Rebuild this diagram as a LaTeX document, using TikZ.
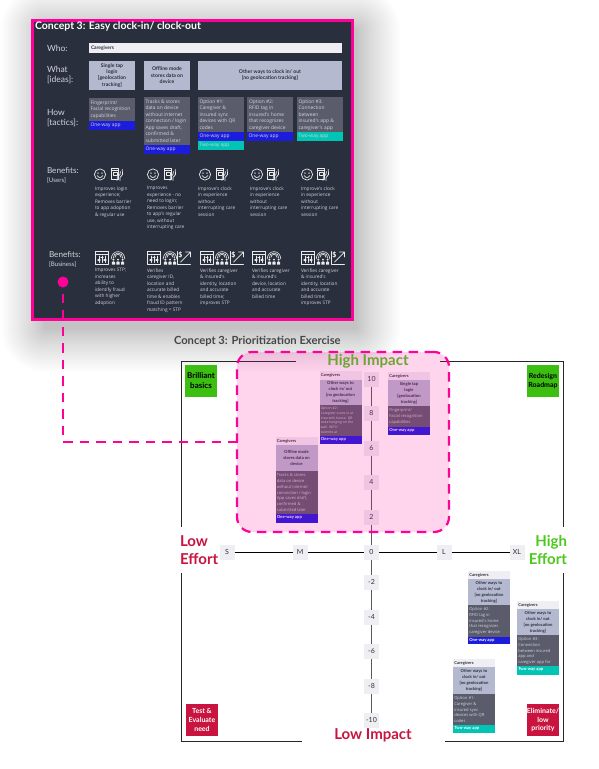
\documentclass[tikz,border=0pt]{standalone}
\usepackage{fontspec}
\setmainfont{Lato}
\newfontfamily\bodyfam{Open Sans}
\definecolor{pnk}{HTML}{FF0099}
\definecolor{panel}{HTML}{2A2F3D}
\definecolor{idea}{HTML}{B5B9D0}
\definecolor{cardg}{HTML}{5A5C6C}
\definecolor{blu}{HTML}{1C1CDD}
\definecolor{teal2}{HTML}{00C4B4}
\definecolor{tick}{HTML}{EEEEF3}
\definecolor{lbl}{HTML}{D2D3DA}
\definecolor{grn}{HTML}{3CBF10}
\definecolor{hgrn}{HTML}{4CC81E}
\definecolor{crim}{HTML}{C8143F}
\tikzset{
 rct/.style={rectangle,inner sep=0pt,outer sep=0pt,draw=none},
 lefttxt/.style={inner sep=0pt,outer sep=0pt,anchor=north west,align=left},
 ctrtxt/.style={inner sep=0pt,outer sep=0pt,align=center},
 body/.style={lefttxt,text=lbl,font=\bodyfam\fontsize{4.9}{6.5}\selectfont},
 benefit/.style={lefttxt,text=lbl,font=\bodyfam\fontsize{4.75}{6.5}\selectfont},
 rowhead/.style={lefttxt,text=lbl,font=\fontsize{8.5}{10.5}\selectfont},
 benhead/.style={lefttxt,text=lbl,font=\fontsize{8.2}{9}\selectfont},
 rowsub/.style={lefttxt,text=lbl,font=\fontsize{6.2}{7}\selectfont},
 ideatxt/.style={ctrtxt,text=panel,font=\fontsize{5.1}{6.4}\selectfont\bfseries},
 tickbox/.style={rct,fill=tick,minimum width=15pt,minimum height=15pt,text=black!80,font=\fontsize{7}{8}\selectfont},
 bigword/.style={ctrtxt,font=\fontsize{15}{18}\selectfont\bfseries},
 quadtxt/.style={ctrtxt,font=\fontsize{7}{8.6}\selectfont\bfseries},
 minihead/.style={lefttxt,text=black!80,font=\fontsize{4.1}{5}\selectfont\bfseries},
 miniidea/.style={ctrtxt,text=panel,font=\fontsize{4.2}{5.9}\selectfont\bfseries},
 minibody/.style={lefttxt,text=lbl,font=\bodyfam\fontsize{4.1}{5.9}\selectfont},
 minibar/.style={lefttxt,text=white,font=\fontsize{4.2}{5}\selectfont\bfseries},
 frameline/.style={line width=1pt,draw=black!85},
 icon/.style={draw=white!92!black,line width=.7pt,line cap=round,line join=round},
 smile/.pic={\draw[icon] (0,0) circle (5.6);
   \fill[white] (-2,-1.4) circle (.7) (2,-1.4) circle (.7);
   \draw[icon] (-2.8,1.1) .. controls (-1.4,3.6) and (1.4,3.6) .. (2.8,1.1);},
 phone/.pic={\draw[icon] (-5.5,-6) rectangle (1.8,4.5);
   \draw[icon] (-5.5,-4.2) -- (1.8,-4.2);
   \draw[icon] (-3.5,-2.5) rectangle (0,1);
   \draw[icon] (0,6) -- (0.4,2.5) -- (3,0) -- (3.4,-3) (3,6) -- (3,3) -- (5.6,0) -- (5.2,-5);},
 win/.pic={\draw[icon] (-6.5,-6.5) rectangle (6.5,6.5);
   \draw[icon] (-6.5,-3.8) -- (6.5,-3.8);
   \draw[icon] (-3,-2) -- (-3,4.5) (0,-2) -- (0,4.5) (3,-2) -- (3,4.5);
   \draw[icon,line width=1.1pt] (-4,2) -- (-2,2) (-1,-.4) -- (1,-.4) (2,2) -- (4,2);},
 crowd/.pic={
   \draw[icon,line width=.6pt] (-6.8,1) arc (180:360:6.8 and 7.4);
   \draw[icon,line width=.6pt] (-4.9,.2) arc (180:360:4.9 and 5.2);
   \draw[icon,line width=.6pt] (-3,-.6) arc (180:360:3 and 3.1);
   \foreach \px in {-4.6,0,4.6}{
     \fill[white!92!black] (\px,1.6) circle (1.1);
     \fill[white!92!black] (\px-1.6,6.5) -- (\px-1.6,4.2) .. controls (\px-1.4,2.9) and (\px+1.4,2.9) .. (\px+1.6,4.2) -- (\px+1.6,6.5) -- cycle;}
   },
 growth/.pic={\draw[icon] (-6.5,-6.5) -- (-6.5,6.5) -- (6.5,6.5);
   \draw[icon] (-3.5,4) -- (6,-5.5) (1.5,-6) -- (6.5,-6) -- (6.5,-1);
   \node[inner sep=0pt,text=white,font=\fontsize{7}{7}\selectfont\bfseries] (dollarsign) at (-3.6,-3) {\$};},
}
\newcommand\rbox[6]{% name, x1,y1,x2,y2, style
 \pgfmathsetmacro\rw{#4-#2}\pgfmathsetmacro\rh{#5-#3}
 \node[rct,#6,minimum width=\rw pt,minimum height=\rh pt,anchor=north west] (#1) at (#2,#3) {};}
% mini card on the chart
\newcommand\minicard[9]{\rbox{#1h}{#2}{#3}{#2+42}{#4}{fill=tick}
 \rbox{#1i}{#2}{#4}{#2+42}{#5}{fill=idea}
 \rbox{#1b}{#2}{#5}{#2+42}{#6}{fill=cardg}
 \rbox{#1a}{#2}{#6}{#2+42}{#7}{fill=#8}
 \node[minihead] (#1ht) at ([xshift=1.3pt,yshift=-2pt]#1h.north west) {Caregivers};
 \node[minibar] (#1at) at ([xshift=1.3pt,yshift=-1.7pt]#1a.north west) {#9};
 \minicardrest{#1}}
\newcommand\minicardrest[3]{\node[miniidea] (#1it) at (#1i.center) {#2};
 \node[minibody,anchor=north west] (#1bt) at ([xshift=1.3pt,yshift=-2.2pt]#1b.north west) {#3};}
\begin{document}
\begin{tikzpicture}[x=1pt,y=-1pt]
\useasboundingbox (0,0) rectangle (598,769);
\fill[white] (0,0) rectangle (598,769);
% soft shadow round the panel
\foreach \i in {1,...,30}{
  \pgfmathsetmacro\dd{44*(\i/30)^1.2}
  \fill[black,opacity=.0085,rounded corners=\dd pt] (45-\dd,30-\dd) rectangle (356+\dd,328+\dd);}
% panel
\rbox{panel}{32.5}{20.5}{352.5}{319.5}{fill=panel,draw=pnk,line width=3pt}
\node[lefttxt,text=white,font=\fontsize{10.5}{12}\selectfont\bfseries] (title) at (35,22) {Concept 3: Easy clock-in/ clock-out};
\node[rowhead] (who) at (47,45) {Who:};
\node[rowhead] (what) at (47,66) {What\\{[ideas]:}};
\node[rowhead] (how) at (47,109) {How\\{[tactics]:}};
\rbox{whobar}{89}{43}{342}{53}{fill=tick}
\node[lefttxt,text=panel,font=\fontsize{4.9}{6}\selectfont\bfseries] (whot) at (91,45.5) {Caregivers};
\rbox{ia}{89}{61}{135}{89.5}{fill=idea}
\rbox{ib}{144}{61}{190}{89.5}{fill=idea}
\rbox{ic}{198}{61}{342}{89.5}{fill=idea}
\node[ideatxt] (iat) at (ia.center) {Single tap\\login\\{[geolocation}\\tracking]};
\node[ideatxt] (ibt) at (ib.center) {Offline mode\\stores data on\\device};
\node[ideatxt] (ict) at (ic.center) {Other ways to clock in/ out\\{[no geolocation tracking]}};
% tactics
\rbox{ca}{89}{98}{135}{121}{fill=cardg}
\rbox{cb}{144}{97}{190}{145}{fill=cardg}
\rbox{cc}{198}{97}{244}{132}{fill=cardg}
\rbox{cd}{247}{97}{293}{132}{fill=cardg}
\rbox{ce}{297}{97}{343}{132}{fill=cardg}
\rbox{ba}{89}{121}{135}{130}{fill=blu}
\rbox{bb}{144}{145}{190}{154}{fill=blu}
\rbox{bc}{198}{132}{244}{141}{fill=blu}
\rbox{bc2}{198}{141}{244}{150}{fill=teal2}
\rbox{bd}{247}{132}{293}{141}{fill=blu}
\rbox{be}{297}{132}{343}{141}{fill=teal2}
\node[body] (cat) at (90.5,100.5) {Fingerprint/\\Facial recognition\\capabilities};
\node[body] (cbt) at (145.5,99.5) {Tracks \& stores\\data on device\\without internet\\connection / login\\App saves draft,\\confirmed \&\\submitted later};
\node[body] (cct) at (199.5,99.5) {Option \#1:\\Caregiver \&\\insured sync\\devices with QR\\codes};
\node[body] (cdt) at (249,99.5) {Option \#2:\\RFID tag in\\insured's home\\that recognizes\\caregiver device};
\node[body] (cet) at (298.5,99.5) {Option \#3:\\Connection\\between\\insured's app \&\\caregiver's app};
\foreach \n/\t in {ba/One-way app,bb/One-way app,bc/One-way app,bc2/Two-way app,bd/One-way app,be/Two-way app}{
  \node[lefttxt,anchor=west,text=lbl,font=\bodyfam\fontsize{4.9}{6}\selectfont] (\n t) at ([xshift=1.5pt]\n.west) {\t};}
% benefits: users
\node[benhead] (bu) at (47,167) {Benefits:};
\node[rowsub] (bus) at (47,178) {[Users]};
\foreach \x/\p in {100/117,153/170,205/222,257/273,307/323}{
  \pic at (\x,174.5) {smile};
  \pic at (\p,174.5) {phone};}
\node[benefit] (ua) at (95,186.5) {Improves login\\experience;\\Removes barrier\\to app adoption\\\& regular use};
\node[benefit] (ub) at (147,186.5) {Improves\\experience - no\\need to login;\\Removes barrier\\to app's regular\\use, without\\interrupting care};
\node[benefit] (uc) at (198,186.5) {Improve's clock\\in experience\\without\\interrupting care\\session};
\node[benefit] (ud) at (250,186.5) {Improve's clock\\in experience\\without\\interrupting care\\session};
\node[benefit] (ue) at (301,186.5) {Improve's clock\\in experience\\without\\interrupting care\\session};
% benefits: business
\node[benhead] (bb1) at (49,251) {Benefits:};
\node[rowsub] (bb2) at (49,262) {[Business]};
\foreach \x/\p in {102/118,154/170,207/222,259/274,308/323}{
  \pic at (\x,258) {win};
  \pic at (\p,258) {crowd};}
\foreach \x in {184,237,338}{\pic at (\x,258) {growth};}
\node[benefit] (va) at (95,268.5) {Improves STP;\\increases\\ability to\\identify fraud\\with higher\\adoption};
\node[benefit] (vb) at (147,268.5) {Verifies\\caregiver ID,\\location and\\accurate billed\\time \& enables\\fraud ID pattern\\matching = STP};
\node[benefit] (vc) at (200,268.5) {Verifies caregiver\\\& insured's\\identity, location\\and accurate\\billed time;\\improves STP};
\node[benefit] (vd) at (252,268.5) {Verifies caregiver\\\& insured's\\device, location\\and accurate\\billed time};
\node[benefit] (ve) at (301,268.5) {Verifies caregiver\\\& insured's\\identity, location\\and accurate\\billed time;\\improves STP};
% chart title and frame
\node[lefttxt,anchor=west,text=black!72,font=\fontsize{11.2}{13}\selectfont\bfseries] (ctitle) at (174,341) {Concept 3: Prioritization Exercise};
\coordinate (f1) at (296,361); \coordinate (f2) at (181,361); \coordinate (f3) at (181,527);
\coordinate (f4) at (181,573); \coordinate (f5) at (181,741); \coordinate (f6) at (302,741);
\coordinate (f7) at (445,741); \coordinate (f8) at (563,741); \coordinate (f9) at (563,573);
\coordinate (f10) at (563,527); \coordinate (f11) at (563,361); \coordinate (f12) at (440,361);
\draw[frameline] (f1) -- (f2) -- (f3);
\draw[frameline] (f4) -- (f5) -- (f6);
\draw[frameline] (f7) -- (f8) -- (f9);
\draw[frameline] (f10) -- (f11) -- (f12);
% axes
\foreach \n/\t/\y in {a10/10/379,a8/8/413,a6/6/448,a4/4/482,a2/2/517,an2/-2/582,an4/-4/617,an6/-6/651,an8/-8/686,an10/-10/720}{
  \node[tickbox] (\n) at (371.5,\y) {\t};}
\foreach \n/\t/\x in {tS/S/227,tM/M/300,t0/0/371.5,tL/L/444,tXL/XL/517}{
  \node[tickbox] (\n) at (\x,552) {\t};}
\foreach \a/\b in {tS/tM,tM/t0,t0/tL,tL/tXL}{\draw[black,line width=.8pt] (\a) -- (\b);}
\foreach \a/\b in {a10/a8,a8/a6,a6/a4,a4/a2,a2/t0,t0/an2,an2/an4,an4/an6,an6/an8,an8/an10}{\draw[black!65,line width=1.4pt] (\a) -- (\b);}
% quadrant tags
\rbox{qa}{185}{365}{217}{397}{fill=grn}
\rbox{qb}{527}{365}{559}{397}{fill=grn}
\rbox{qc}{186}{704}{218}{736}{fill=crim}
\rbox{qd}{527}{704}{559}{736}{fill=crim}
\node[quadtxt,text=black,font=\fontsize{8}{10}\selectfont\bfseries] (qat) at (qa.center) {Brilliant\\basics};
\node[quadtxt,text=black] (qbt) at (qb.center) {Redesign\\Roadmap};
\node[quadtxt,text=white] (qct) at (qc.center) {Test \&\\Evaluate\\need};
\node[quadtxt,text=white] (qdt) at (qd.center) {Eliminate/\\low\\priority};
% big axis words
\node[bigword,text=hgrn] (hi) at (368,361) {High Impact};
\node[bigword,text=crim] (li) at (373,735) {Low Impact};
\node[bigword,text=crim,align=left,anchor=west] (le) at (180,550) {Low\\Effort};
\node[bigword,text=hgrn,align=right,anchor=east] (he) at (567,550) {High\\Effort};
% cards on the chart
\begin{scope}[minibody/.append style={font=\bodyfam\fontsize{3.4}{4.7}\selectfont}]
\minicard{m1}{319.5}{371}{380}{405}{436}{444}{blu}{One-way app}{Other ways to\\clock in/ out\\{[no geolocation}\\tracking]}{Option \#2:\\Caregiver scans in at\\insured's house. QR\\code hanging on the\\wall. WITH\\submits at}
\end{scope}
\minicard{m2}{275.5}{437}{445}{471}{514}{523}{blu}{One-way app}{Offline mode\\stores data on\\device}{Tracks \& stores\\data on device\\without internet\\connection / login\\App saves draft,\\confirmed \&\\submitted later}
\minicard{m3}{388}{372}{380}{406}{427}{435}{blu}{One-way app}{Single tap\\login\\{[geolocation}\\tracking]}{Fingerprint/\\Facial recognition\\capabilities}
\minicard{m4}{468}{571}{579}{605}{636.5}{644}{blu}{One-way app}{Other ways to\\clock in/ out\\{[no geolocation}\\tracking]}{Option \#2:\\RFID tag in\\insured's home\\that recognizes\\caregiver device}
\minicard{m5}{517}{601}{609}{635}{666}{675}{teal2}{Two-way app}{Other ways to\\clock in/ out\\{[no geolocation}\\tracking]}{Option \#3:\\Connection\\between insured\\app and\\caregiver app for}
\minicard{m6}{453}{659}{667}{694}{725}{733}{teal2}{Two-way app}{Other ways to\\clock in/ out\\{[no geolocation}\\tracking]}{Option \#1:\\Caregiver \&\\insured sync\\devices with QR\\codes}
% highlighted region and connector
\rbox{region}{237}{352}{449}{532}{fill=pnk,fill opacity=.17,draw=pnk,draw opacity=1,line width=2.2pt,dash pattern=on 9.5pt off 6.5pt,rounded corners=15pt}
\node[circle,fill=pnk,inner sep=0pt,minimum size=11pt] (dot) at (63,282) {};
\draw[pnk,line width=2pt,dash pattern=on 9.5pt off 7pt,shorten <=6pt] (dot.south) |- (region.west);
\end{tikzpicture}
\end{document}
